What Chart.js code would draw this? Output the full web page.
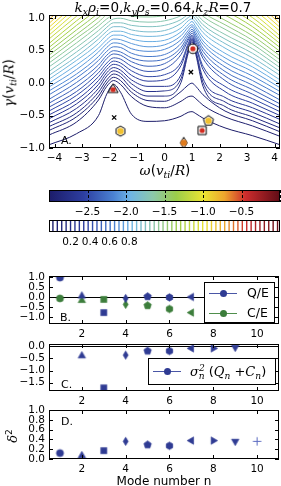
<!DOCTYPE html>
<html>
<head>
<meta charset="utf-8">
<script src="https://cdn.jsdelivr.net/npm/chart.js@4.4.1/dist/chart.umd.min.js"></script>
<style>
  body { margin: 0; background: #fff; }
  #fig { position: relative; width: 281px; height: 486px; overflow: hidden; font-family: "DejaVu Sans", sans-serif; color: #000; }
  canvas { position: absolute; left: 0; }
  .t { position: absolute; white-space: nowrap; line-height: 1; }
  .m { font-family: "DejaVu Serif", serif; font-style: italic; }
  .t sub { font-size: 70%; vertical-align: -0.3em; }
  .t sup { font-size: 70%; vertical-align: 0.55em; }
  .leg { position: absolute; border: 1px solid #000; background: #fff; box-sizing: border-box; }
  .ln { position: absolute; height: 1px; }
  .dot { position: absolute; width: 7px; height: 7px; border-radius: 50%; }
</style>
</head>
<body>
<div id="fig">
  <canvas id="cA" width="295" height="162" style="top:3px"></canvas>
  <canvas id="cBar" width="295" height="40" style="top:178px"></canvas>
  <canvas id="cLines" width="295" height="40" style="top:208px"></canvas>
  <canvas id="cB" width="295" height="76" style="top:264px"></canvas>
  <canvas id="cC" width="295" height="76" style="top:332px"></canvas>
  <canvas id="cD" width="295" height="76" style="top:398px"></canvas>

  <div class="t" style="left:163px;top:1px;transform:translateX(-50%);font-size:13.5px"><span class="m">k<sub>x</sub>ρ<sub>i</sub></span>=0,<span class="m">k<sub>y</sub>ρ<sub>s</sub></span>=0.64,<span class="m">k<sub>z</sub>R</span>=0.7</div>
  <div class="t" style="left:10px;top:83px;transform:translate(-50%,-50%) rotate(-90deg);font-size:13.5px"><span class="m">γ</span>(<span class="m">v<sub>ti</sub></span>/<span class="m">R</span>)</div>
  <div class="t" style="left:165px;top:172px;transform:translate(-50%,-50%);font-size:13.5px"><span class="m">ω</span>(<span class="m">v<sub>ti</sub></span>/<span class="m">R</span>)</div>
  <div class="t" style="left:61px;top:140px;transform:translateY(-50%);font-size:11px">A.</div>
  <div class="t" style="left:60px;top:317px;transform:translateY(-50%);font-size:11px">B.</div>
  <div class="t" style="left:61px;top:384px;transform:translateY(-50%);font-size:11px">C.</div>
  <div class="t" style="left:61px;top:421px;transform:translateY(-50%);font-size:11px">D.</div>
  <div class="t" style="left:12px;top:436px;transform:translate(-50%,-50%) rotate(-90deg);font-size:13px"><span class="m">δ</span><sup>2</sup></div>
  <div class="t" style="left:164px;top:481px;transform:translate(-50%,-50%);font-size:12px">Mode number n</div>

  <div class="leg" style="left:204px;top:282px;width:71px;height:41px">
    <div class="ln" style="left:4px;top:10px;width:28px;background:#4a56a6"></div>
    <div class="dot" style="left:15px;top:7px;background:#2f3b93"></div>
    <div class="t" style="left:42px;top:4px;font-size:12.5px">Q/E</div>
    <div class="ln" style="left:4px;top:30px;width:28px;background:#4f8f4c"></div>
    <div class="dot" style="left:15px;top:27px;background:#3c7d3b"></div>
    <div class="t" style="left:42px;top:24px;font-size:12.5px">C/E</div>
  </div>
  <div class="leg" style="left:148px;top:358px;width:128px;height:27px">
    <div class="ln" style="left:4px;top:12px;width:28px;background:#4a56a6"></div>
    <div class="dot" style="left:15px;top:9px;background:#2f3b93"></div>
    <div class="t" style="left:41px;top:5px;font-size:13px"><span class="m">σ</span><sup class="m">2</sup><sub class="m" style="margin-left:-6px">n</sub> (<span class="m">Q<sub>n</sub></span> +<span class="m">C<sub>n</sub></span>)</div>
  </div>
</div>
<script>
// ---- contour plot (A) ----
const omegaCols = [-4.2, -3.2, -2.4, -2.1, -1.85, -1.6, -1.2, -0.6, 0, 0.6, 0.86, 1.0, 1.14, 1.4, 2.2, 3.2, 4.2];
const contourLevels = [-3.0, -2.96, -2.88, -2.80, -2.73, -2.65, -2.58, -2.50, -2.43, -2.35, -2.28, -2.21, -2.13, -2.06, -1.98, -1.91,
  -1.83, -1.76, -1.68, -1.61, -1.54, -1.46, -1.39, -1.31, -1.24, -1.16, -1.09, -1.02, -0.94, -0.87, -0.79, -0.72];
const contourGamma = [
  [-0.95, -0.78, -0.50, -0.17, -0.02, -0.14, -0.48, -0.59, -0.58, -0.51, -0.45, -0.44, -0.47, -0.54, -0.69, -0.81, -0.95],
  [-0.80, -0.60, -0.26, -0.05, 0.04, -0.02, -0.21, -0.36, -0.38, -0.28, -0.21, -0.20, -0.24, -0.34, -0.52, -0.66, -0.82],
  [-0.73, -0.52, -0.20, 0.00, 0.09, 0.04, -0.14, -0.27, -0.28, -0.13, -0.03, 0.00, -0.05, -0.18, -0.43, -0.58, -0.75],
  [-0.67, -0.46, -0.14, 0.05, 0.14, 0.10, -0.08, -0.20, -0.20, 0.01, 0.46, 0.64, 0.44, -0.05, -0.36, -0.52, -0.69],
  [-0.61, -0.39, -0.08, 0.11, 0.19, 0.15, -0.01, -0.13, -0.12, 0.07, 0.49, 0.66, 0.47, 0.01, -0.29, -0.45, -0.63],
  [-0.55, -0.32, -0.02, 0.16, 0.24, 0.20, 0.05, -0.05, -0.05, 0.13, 0.52, 0.68, 0.50, 0.07, -0.22, -0.38, -0.56],
  [-0.49, -0.26, 0.04, 0.21, 0.29, 0.26, 0.12, 0.03, 0.05, 0.27, 0.58, 0.70, 0.55, 0.21, -0.13, -0.31, -0.50],
  [-0.43, -0.19, 0.10, 0.26, 0.34, 0.31, 0.19, 0.10, 0.13, 0.32, 0.61, 0.72, 0.58, 0.26, -0.05, -0.24, -0.44],
  [-0.37, -0.13, 0.16, 0.31, 0.39, 0.37, 0.26, 0.18, 0.22, 0.44, 0.66, 0.74, 0.63, 0.38, 0.04, -0.17, -0.38],
  [-0.31, -0.06, 0.22, 0.38, 0.45, 0.43, 0.33, 0.26, 0.30, 0.50, 0.69, 0.77, 0.67, 0.43, 0.11, -0.10, -0.32],
  [-0.25, 0.01, 0.28, 0.43, 0.50, 0.48, 0.39, 0.34, 0.37, 0.55, 0.73, 0.80, 0.70, 0.49, 0.18, -0.03, -0.26],
  [-0.18, 0.08, 0.35, 0.49, 0.56, 0.55, 0.46, 0.41, 0.44, 0.61, 0.77, 0.83, 0.74, 0.54, 0.25, 0.04, -0.19],
  [-0.12, 0.14, 0.41, 0.55, 0.62, 0.61, 0.53, 0.49, 0.52, 0.67, 0.81, 0.87, 0.78, 0.60, 0.32, 0.11, -0.13],
  [-0.06, 0.21, 0.48, 0.61, 0.68, 0.67, 0.61, 0.56, 0.59, 0.73, 0.86, 0.90, 0.83, 0.65, 0.39, 0.18, -0.07],
  [0.00, 0.28, 0.54, 0.67, 0.74, 0.74, 0.68, 0.64, 0.66, 0.79, 0.90, 0.95, 0.87, 0.71, 0.46, 0.25, -0.01],
  [0.06, 0.35, 0.61, 0.74, 0.80, 0.80, 0.75, 0.72, 0.74, 0.85, 0.96, 0.99, 0.93, 0.78, 0.54, 0.32, 0.05],
  [0.12, 0.41, 0.68, 0.80, 0.87, 0.87, 0.82, 0.79, 0.81, 0.92, 1.01, 1.04, 0.98, 0.84, 0.61, 0.39, 0.12],
  [0.18, 0.48, 0.74, 0.86, 0.93, 0.93, 0.89, 0.87, 0.89, 0.98, 1.06, 1.09, 1.03, 0.90, 0.68, 0.46, 0.18],
  [0.25, 0.55, 0.81, 0.92, 0.99, 1.00, 0.96, 0.94, 0.96, 1.04, 1.11, 1.14, 1.08, 0.96, 0.75, 0.53, 0.24],
  [0.31, 0.62, 0.88, 0.99, 1.05, 1.06, 1.03, 1.02, 1.04, 1.11, 1.17, 1.19, 1.14, 1.03, 0.83, 0.60, 0.30],
  [0.37, 0.69, 0.94, 1.06, 1.12, 1.13, 1.11, 1.10, 1.12, 1.18, 1.23, 1.25, 1.20, 1.09, 0.90, 0.66, 0.36],
  [0.43, 0.75, 1.01, 1.12, 1.19, 1.20, 1.18, 1.17, 1.19, 1.25, 1.30, 1.31, 1.26, 1.16, 0.97, 0.73, 0.42],
  [0.49, 0.82, 1.08, 1.19, 1.26, 1.27, 1.25, 1.24, 1.26, 1.32, 1.37, 1.38, 1.33, 1.23, 1.05, 0.80, 0.49],
  [0.55, 0.89, 1.15, 1.26, 1.34, 1.35, 1.33, 1.32, 1.34, 1.39, 1.44, 1.45, 1.40, 1.30, 1.12, 0.87, 0.55],
  [0.61, 0.96, 1.22, 1.33, 1.41, 1.42, 1.41, 1.40, 1.42, 1.47, 1.51, 1.52, 1.47, 1.37, 1.20, 0.94, 0.61],
  [0.68, 1.03, 1.29, 1.40, 1.47, 1.49, 1.48, 1.48, 1.50, 1.54, 1.58, 1.59, 1.55, 1.45, 1.27, 1.01, 0.67],
  [0.74, 1.10, 1.35, 1.47, 1.55, 1.57, 1.56, 1.56, 1.58, 1.62, 1.66, 1.67, 1.63, 1.53, 1.34, 1.08, 0.73],
  [0.80, 1.17, 1.42, 1.54, 1.62, 1.65, 1.64, 1.64, 1.66, 1.70, 1.74, 1.75, 1.71, 1.61, 1.42, 1.15, 0.80],
  [0.86, 1.23, 1.50, 1.62, 1.70, 1.73, 1.72, 1.72, 1.74, 1.78, 1.82, 1.83, 1.79, 1.69, 1.49, 1.22, 0.86],
  [0.92, 1.30, 1.58, 1.70, 1.78, 1.81, 1.80, 1.80, 1.82, 1.86, 1.90, 1.91, 1.87, 1.77, 1.57, 1.29, 0.92],
  [0.98, 1.37, 1.66, 1.78, 1.86, 1.89, 1.88, 1.88, 1.90, 1.94, 1.98, 1.99, 1.95, 1.85, 1.64, 1.36, 0.98],
  [1.04, 1.44, 1.74, 1.86, 1.94, 1.97, 1.96, 1.96, 1.98, 2.02, 2.06, 2.07, 2.03, 1.93, 1.72, 1.43, 1.04]
];
const zeroOmega = [1.03, -1.87, 1.37, 0.70, 1.60, -1.60];
const zeroGamma = [0.53, -0.10, -0.73, -0.92, -0.58, -0.74];
const zeroShape = ['o', '^', 's', 'd', 'p', 'h'];
const zeroColor = ['#d22b1f', '#d22b1f', '#d22b1f', '#e07b1d', '#f1c12f', '#f1c12f'];
const saddleOmega = [0.96, -1.83];
const saddleGamma = [0.17, -0.53];

// ---- colour bars ----
const cbMin = -3, cbMax = 0;
const cbLineLevels = [0.02, 0.065, 0.11, 0.155, 0.2, 0.245, 0.29, 0.335, 0.38, 0.425, 0.47, 0.515, 0.56, 0.605, 0.65, 0.695,
  0.74, 0.785, 0.83, 0.875, 0.92, 0.965, 1.01, 1.055, 1.1, 1.145, 1.19, 1.235, 1.28, 1.325, 1.37, 1.415, 1.46, 1.505,
  1.55, 1.595, 1.64, 1.685, 1.73, 1.775, 1.82, 1.865, 1.91, 1.955, 2.0, 2.045, 2.09, 2.135, 2.18, 2.225, 2.27, 2.315];
const cbLineTicks = [0.2, 0.4, 0.6, 0.8];

// ---- mode panels (B, C, D) ----
const modeN = [1, 2, 3, 4, 5, 6, 7, 8, 9, 10];
const modeShape = ['o', '^', 's', 'd', 'p', 'h', '<', '>', 'v', '+'];
const qOverE = [0.97, 0.05, -0.78, -0.07, 0.02, -0.02, 0.0];
const cOverE = [-0.07, -0.17, -0.12, -0.37, -0.43, -0.60, -0.78];
const sigmaQC = [null, -0.39, -1.72, -0.36, -0.19, -0.19, -0.08, -0.08, -0.04, null];
const delta2 = [0.12, 0.07, 0.17, 0.36, 0.29, 0.27, 0.375, 0.375, 0.36, 0.36];

const cmapStops = [
  [0.00, [28, 28, 105]], [0.15, [45, 62, 160]], [0.28, [75, 130, 210]], [0.35, [110, 180, 230]],
  [0.45, [140, 200, 170]], [0.55, [155, 205, 75]], [0.67, [235, 228, 50]], [0.76, [238, 165, 45]],
  [0.85, [205, 45, 45]], [1.00, [95, 12, 22]]
];
const BLUE = '#2f3b93', GREEN = '#3c7d3b';

Chart.defaults.font.family = '"DejaVu Sans", sans-serif';
Chart.defaults.font.size = 10.5;
Chart.defaults.color = '#000';

function rgb(c) { return 'rgb(' + c.map(Math.round).join(',') + ')'; }
function cmap(t) {
  t = Math.min(1, Math.max(0, t));
  for (let i = 1; i < cmapStops.length; i++) {
    const [t0, c0] = cmapStops[i - 1];
    const [t1, c1] = cmapStops[i];
    if (t <= t1) {
      const f = (t - t0) / (t1 - t0);
      return rgb(c0.map((v, k) => v + (c1[k] - v) * f));
    }
  }
  return rgb(cmapStops[cmapStops.length - 1][1]);
}
function fmt(v, d) {
  const s = Math.abs(v) < 1e-9 ? (0).toFixed(d) : v.toFixed(d);
  return s.replace('-', '\u2212');
}

// marker glyphs drawn on small canvases, used as point styles
function shapePath(g, shape, r) {
  const poly = (n, rot, rr) => {
    for (let i = 0; i < n; i++) {
      const a = rot + i * 2 * Math.PI / n;
      const px = rr * Math.cos(a), py = rr * Math.sin(a);
      if (i) g.lineTo(px, py); else g.moveTo(px, py);
    }
    g.closePath();
  };
  switch (shape) {
    case 'o': g.arc(0, 0, r, 0, 2 * Math.PI); break;
    case '^': poly(3, -Math.PI / 2, r * 1.2); break;
    case 'v': poly(3, Math.PI / 2, r * 1.2); break;
    case '<': poly(3, Math.PI, r * 1.2); break;
    case '>': poly(3, 0, r * 1.2); break;
    case 's': g.rect(-r * 0.85, -r * 0.85, r * 1.7, r * 1.7); break;
    case 'd': g.moveTo(0, -r * 1.15); g.lineTo(r * 0.7, 0); g.lineTo(0, r * 1.15); g.lineTo(-r * 0.7, 0); g.closePath(); break;
    case 'p': poly(5, -Math.PI / 2, r * 1.1); break;
    case 'h': poly(6, -Math.PI / 2, r * 1.05); break;
    case '+': g.moveTo(-r, 0); g.lineTo(r, 0); g.moveTo(0, -r); g.lineTo(0, r); break;
  }
}
function marker(shape, fill, edge, r, lw) {
  const s = Math.ceil(2 * r + 2 * lw + 4);
  const c = document.createElement('canvas');
  c.width = s; c.height = s;
  const g = c.getContext('2d');
  g.translate(s / 2, s / 2);
  g.beginPath();
  shapePath(g, shape, r);
  if (shape === '+') {
    g.strokeStyle = edge; g.lineWidth = lw || 1; g.stroke();
    return c;
  }
  g.fillStyle = fill; g.fill();
  if (lw) { g.strokeStyle = edge; g.lineWidth = lw; g.stroke(); }
  return c;
}

// frame, inward ticks, zero line, dashed colour-bar ticks
const framePlugin = {
  id: 'frame',
  beforeDatasetsDraw(chart, args, o) {
    if (!o.zero) return;
    const {ctx, chartArea: a} = chart;
    const y = Math.round(chart.scales.y.getPixelForValue(0)) + 0.5;
    ctx.save();
    ctx.strokeStyle = '#000'; ctx.lineWidth = 1;
    ctx.beginPath(); ctx.moveTo(a.left, y); ctx.lineTo(a.right, y); ctx.stroke();
    ctx.restore();
  },
  afterDatasetsDraw(chart, args, o) {
    const {ctx, chartArea: a, scales} = chart;
    ctx.save();
    ctx.strokeStyle = '#000'; ctx.lineWidth = 1;
    ctx.beginPath();
    if (o.ticks) {
      scales.x.ticks.forEach(t => {
        const x = Math.round(scales.x.getPixelForValue(t.value)) + 0.5;
        ctx.moveTo(x, a.bottom); ctx.lineTo(x, a.bottom - 4);
        ctx.moveTo(x, a.top); ctx.lineTo(x, a.top + 4);
      });
      scales.y.ticks.forEach(t => {
        const y = Math.round(scales.y.getPixelForValue(t.value)) + 0.5;
        ctx.moveTo(a.left, y); ctx.lineTo(a.left + 4, y);
        ctx.moveTo(a.right, y); ctx.lineTo(a.right - 4, y);
      });
    }
    ctx.stroke();
    if (o.dashed) {
      ctx.setLineDash([3, 2]);
      ctx.beginPath();
      scales.x.ticks.forEach(t => {
        const x = Math.round(scales.x.getPixelForValue(t.value)) + 0.5;
        ctx.moveTo(x, a.top); ctx.lineTo(x, a.bottom);
      });
      ctx.stroke();
      ctx.setLineDash([]);
    }
    ctx.strokeRect(Math.round(a.left) + 0.5, Math.round(a.top) + 0.5,
      Math.round(a.right - a.left) - 1, Math.round(a.bottom - a.top) - 1);
    ctx.restore();
  }
};

function axisX(min, max, step, digits, height, cb) {
  return {
    type: 'linear', min, max,
    grid: {display: false, drawTicks: false}, border: {display: false},
    ticks: {stepSize: step, includeBounds: false, padding: 4, maxRotation: 0, autoSkip: false,
      callback: cb || (v => fmt(v, digits))},
    afterFit: s => { s.height = height; }
  };
}
function axisY(min, max, step, digits) {
  return {
    type: 'linear', min, max,
    grid: {display: false, drawTicks: false}, border: {display: false},
    ticks: {stepSize: step, includeBounds: false, padding: 4, autoSkip: false, callback: v => fmt(v, digits)},
    afterFit: s => { s.width = 49; }
  };
}
function baseOptions(padRight, frame, scales, padLeft) {
  return {
    responsive: false, animation: false, events: [],
    layout: {padding: {top: 12, right: padRight, left: padLeft || 0, bottom: 0}},
    plugins: {legend: {display: false}, tooltip: {enabled: false}, frame},
    scales
  };
}

// ---- A: contour map ----
const lineSets = contourGamma.map((row, i) => ({
  data: row.map((g, j) => ({x: omegaCols[j], y: g})),
  showLine: true,
  borderColor: cmap((contourLevels[i] - cbMin) / (cbMax - cbMin)),
  borderWidth: 1, pointRadius: 0, cubicInterpolationMode: 'monotone', order: 3
}));
const zeroPts = zeroOmega.map((w, i) => ({x: w, y: zeroGamma[i]}));
const markerSets = [
  {data: saddleOmega.map((w, i) => ({x: w, y: saddleGamma[i]})), pointStyle: 'crossRot', pointRadius: 3,
    borderColor: '#000', borderWidth: 1.3, order: 0},
  {data: zeroPts, pointStyle: zeroShape.map((s, i) => marker('o', zeroColor[i], zeroColor[i], i > 2 ? 3.2 : 2.6, 0)),
    pointRadius: 3, order: 1},
  {data: zeroPts, pointStyle: zeroShape.map(s => marker(s, '#fff', '#000', 4.8, 1)), pointRadius: 5, order: 2}
];
new Chart(document.getElementById('cA'), {
  type: 'scatter',
  data: {datasets: markerSets.concat(lineSets)},
  options: baseOptions(15, {ticks: true}, {
    x: axisX(-4.2, 4.2, 1, 0, 17),
    y: axisY(-1, 1.05, 0.5, 1)
  }),
  plugins: [framePlugin]
});

// ---- filled colour bar ----
new Chart(document.getElementById('cBar'), {
  type: 'bar',
  data: {labels: ['cb'], datasets: [{
    data: [[cbMin, cbMax]], barPercentage: 1, categoryPercentage: 1, borderWidth: 0,
    backgroundColor: ctx => {
      const ca = ctx.chart.chartArea;
      if (!ca) return '#888';
      const g = ctx.chart.ctx.createLinearGradient(ca.left, 0, ca.right, 0);
      cmapStops.forEach(s => g.addColorStop(s[0], rgb(s[1])));
      return g;
    }
  }]},
  options: Object.assign(baseOptions(15, {dashed: true}, {
    x: axisX(cbMin, cbMax, 0.5, 1, 16, v => (v <= cbMin + 1e-6 || v >= cbMax - 1e-6) ? '' : fmt(v, 1)),
    y: {display: false}
  }, 49), {indexAxis: 'y'}),
  plugins: [framePlugin]
});

// ---- line colour bar ----
new Chart(document.getElementById('cLines'), {
  type: 'scatter',
  data: {datasets: [{
    data: cbLineLevels.map(v => ({x: v, y: 0.5})),
    pointStyle: 'line', pointRotation: 90, pointRadius: 6, borderWidth: 1.4,
    pointBorderColor: cbLineLevels.map(v => cmap(v / 2.34))
  }]},
  options: baseOptions(15, {}, {
    x: axisX(-0.02, 2.34, 0.2, 1, 16, v => cbLineTicks.some(t => Math.abs(t - v) < 1e-6) ? v.toFixed(1) : ''),
    y: {display: false, min: 0, max: 1}
  }, 49),
  plugins: [framePlugin]
});

// ---- B, C, D: per-mode scatter ----
function modePoints(vals, color, light) {
  const pts = [], styles = [];
  vals.forEach((v, i) => {
    if (v === null || v === undefined) return;
    pts.push({x: modeN[i], y: v});
    const s = modeShape[i];
    styles.push(s === '+' ? marker('+', light, light, 4.2, 1) : marker(s, color, color, 3.6, 0.6));
  });
  return {data: pts, pointStyle: styles, pointRadius: 4};
}
const modeX = () => axisX(0.5, 11, 2, 0, 16);

new Chart(document.getElementById('cB'), {
  type: 'scatter',
  data: {datasets: [modePoints(qOverE, BLUE, '#5b6bc0'), modePoints(cOverE, GREEN, '#5f9f5c')]},
  options: baseOptions(16, {ticks: true, zero: true}, {x: modeX(), y: axisY(-1.35, 1.05, 0.5, 1)}),
  plugins: [framePlugin]
});
new Chart(document.getElementById('cC'), {
  type: 'scatter',
  data: {datasets: [modePoints(sigmaQC, BLUE, '#5b6bc0')]},
  options: baseOptions(16, {ticks: true, zero: true}, {x: axisX(0.5, 11, 2, 0, 17), y: axisY(-1.85, 0.1, 0.5, 1)}),
  plugins: [framePlugin]
});
new Chart(document.getElementById('cD'), {
  type: 'scatter',
  data: {datasets: [modePoints(delta2, BLUE, '#5b6bc0')]},
  options: baseOptions(16, {ticks: true}, {x: axisX(0.5, 11, 2, 0, 15), y: axisY(0, 1, 0.2, 1)}),
  plugins: [framePlugin]
});
</script>
</body>
</html>
